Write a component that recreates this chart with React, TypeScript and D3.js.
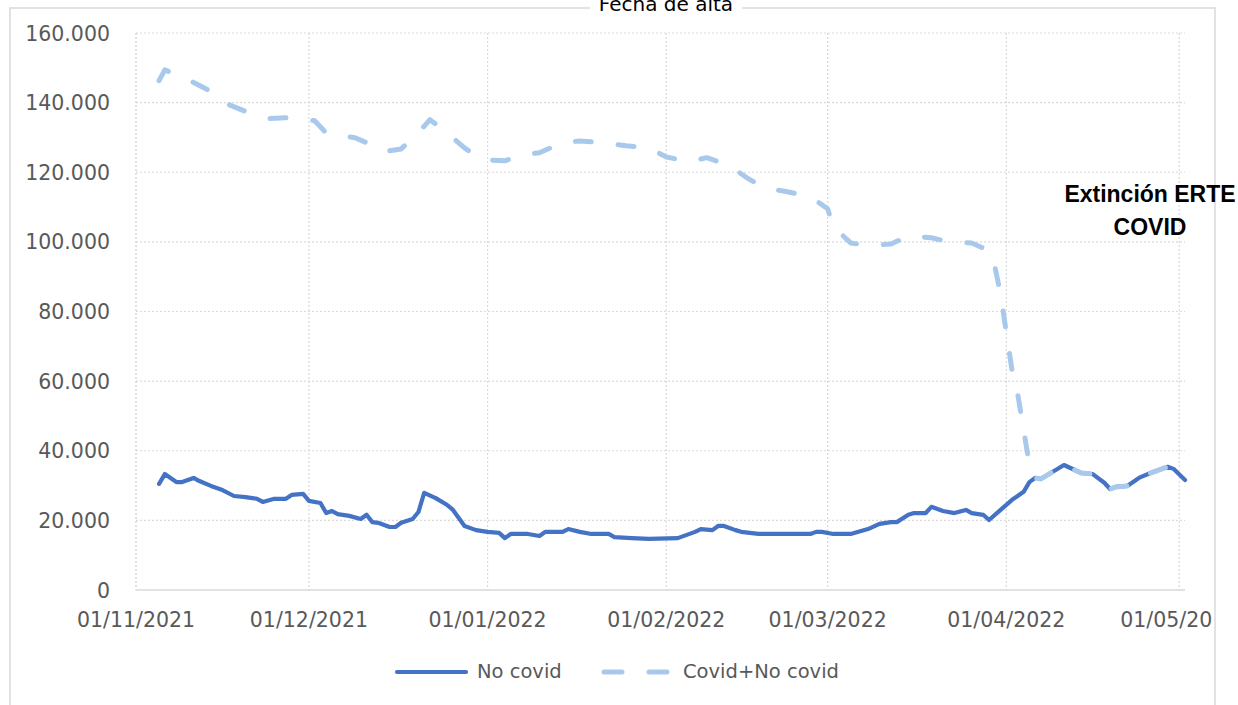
import React from "react";
import * as d3 from "d3";

const W = 1238;
const H = 705;

const noCovidDates = [
  "2021-11-05","2021-11-06","2021-11-08","2021-11-09","2021-11-11","2021-11-12","2021-11-14","2021-11-16",
  "2021-11-18","2021-11-20","2021-11-22","2021-11-23","2021-11-25","2021-11-27","2021-11-28","2021-11-30",
  "2021-12-01","2021-12-03","2021-12-04","2021-12-05","2021-12-06","2021-12-08","2021-12-10","2021-12-11",
  "2021-12-12","2021-12-13","2021-12-15","2021-12-16","2021-12-17","2021-12-19","2021-12-20","2021-12-21",
  "2021-12-23","2021-12-25","2021-12-26","2021-12-27","2021-12-28","2021-12-30","2022-01-01","2022-01-03",
  "2022-01-04","2022-01-05","2022-01-08","2022-01-10","2022-01-11","2022-01-14","2022-01-15","2022-01-17",
  "2022-01-19","2022-01-22","2022-01-23","2022-01-26","2022-01-29","2022-02-03","2022-02-06","2022-02-07",
  "2022-02-09","2022-02-10","2022-02-11","2022-02-13","2022-02-14","2022-02-17","2022-02-26","2022-02-27",
  "2022-02-28","2022-03-02","2022-03-05","2022-03-08","2022-03-10","2022-03-12","2022-03-13","2022-03-15",
  "2022-03-16","2022-03-18","2022-03-19","2022-03-21","2022-03-23","2022-03-25","2022-03-26","2022-03-28",
  "2022-03-29","2022-03-31","2022-04-02","2022-04-04","2022-04-05","2022-04-06","2022-04-07","2022-04-09",
  "2022-04-11","2022-04-14","2022-04-16","2022-04-18","2022-04-19","2022-04-20","2022-04-22","2022-04-24",
  "2022-04-26","2022-04-29","2022-04-30","2022-05-02",
];
const noCovidValues = [
  30500,33300,31000,31000,32200,31300,29900,28700,
  27000,26700,26200,25300,26200,26200,27300,27600,
  25600,25000,22100,22700,21800,21300,20400,21600,
  19500,19300,18100,18100,19300,20400,22400,27900,
  26400,24400,23000,20700,18400,17200,16700,16400,
  14900,16100,16100,15500,16700,16700,17500,16700,
  16100,16100,15200,14900,14700,14900,16700,17500,
  17200,18400,18400,17200,16700,16100,16100,16700,
  16700,16100,16100,17500,19000,19500,19500,21600,
  22100,22100,23900,22700,22100,23000,22100,21600,
  20100,23000,25900,28200,31000,32200,31900,33900,
  35900,33600,33300,30800,29000,29600,29900,32200,
  33600,35400,34800,31600,
];

const totalDates = [
  "2021-11-05","2021-11-06","2021-11-11","2021-11-14","2021-11-17","2021-11-21","2021-11-24","2021-11-28",
  "2021-12-02","2021-12-04","2021-12-09","2021-12-11","2021-12-14","2021-12-17","2021-12-20","2021-12-22",
  "2021-12-25","2021-12-28","2021-12-31","2022-01-04","2022-01-07","2022-01-10","2022-01-14","2022-01-17",
  "2022-01-21","2022-01-25","2022-01-29","2022-02-01","2022-02-05","2022-02-08","2022-02-12","2022-02-15",
  "2022-02-18","2022-02-22","2022-02-26","2022-03-01","2022-03-02","2022-03-05","2022-03-08","2022-03-12",
  "2022-03-15","2022-03-19","2022-03-22","2022-03-26","2022-03-29","2022-03-30","2022-03-31","2022-04-01",
  "2022-04-02","2022-04-03","2022-04-04","2022-04-05","2022-04-06","2022-04-07","2022-04-09","2022-04-11",
  "2022-04-14","2022-04-16","2022-04-18","2022-04-19","2022-04-20","2022-04-22","2022-04-24","2022-04-26",
  "2022-04-29","2022-04-30","2022-05-02",
];
const totalValues = [
  146300,149400,145800,143200,139500,136800,135400,135700,
  134800,131300,129900,128500,125900,126700,131300,135100,
  131300,127000,123600,123300,125000,125600,128500,129000,
  128500,127600,127000,124400,123000,124200,121900,118400,
  115500,114400,113000,109500,104300,99700,98900,99400,
  101700,101200,100000,99700,97500,93000,85000,74000,
  63000,56000,46000,36000,32200,31900,33900,35900,
  33600,33300,30800,29000,29600,29900,32200,33600,
  35400,34800,31600,
];

const yTicks = [0, 20000, 40000, 60000, 80000, 100000, 120000, 140000, 160000];
const xTickDates = ["2021-11-01","2021-12-01","2022-01-01","2022-02-01","2022-03-01","2022-04-01","2022-05-01"];
const xDomain = ["2021-11-01", "2022-05-02"];

const seriesNames = ["No covid", "Covid+No covid"];
const titleText = "Fecha de alta";
const annotationLines = ["Extinción ERTE", "COVID"];

const parse = d3.timeParse("%Y-%m-%d");
const esLocale = d3.formatLocale({ decimal: ",", thousands: ".", grouping: [3], currency: ["", "€"] });
const fmtY = esLocale.format(",.0f");
const fmtX = d3.timeFormat("%d/%m/%Y");

const SOLID = "#4472C4";
const LIGHT = "#A9C9EC";
const GRID = "#D9D9D9";
const TXT = "#595959";
const FONT = "'DejaVu Sans', sans-serif";

export default function App() {
  const x = d3.scaleTime().domain(xDomain.map((s) => parse(s) as Date)).range([136, 1185]);
  const y = d3.scaleLinear().domain([0, 160000]).range([590, 33]);

  const noCovid = noCovidDates.map((d, i) => ({ date: parse(d) as Date, value: noCovidValues[i] }));
  const total = totalDates.map((d, i) => ({ date: parse(d) as Date, value: totalValues[i] }));

  const line = d3
    .line<{ date: Date; value: number }>()
    .x((d) => x(d.date))
    .y((d) => y(d.value));

  const xTicks = xTickDates.map((s) => parse(s) as Date);
  const [x0, x1] = x.range();

  return (
    <svg width={W} height={H} style={{ position: "absolute", left: 0, top: 0, background: "#fff" }}>
      <defs>
        <clipPath id="frameClip">
          <rect x={0} y={0} width={1212} height={H} />
        </clipPath>
      </defs>
      {/* chart frame */}
      <rect x={10} y={8} width={1205} height={720} fill="none" stroke={GRID} strokeWidth={1.5} />

      {/* title with white background */}
      <rect x={590} y={0} width={152} height={14} fill="#fff" />
      <text x={666} y={11} textAnchor="middle" fontFamily={FONT} fontSize={20} fill="#000">
        {titleText}
      </text>

      {/* horizontal grid */}
      {yTicks.map((t) =>
        t === 0 ? null : (
          <line key={"h" + t} x1={x0} x2={x1} y1={y(t)} y2={y(t)} stroke={GRID} strokeWidth={1.2} strokeDasharray="2 2" />
        )
      )}
      {/* vertical grid */}
      <line x1={x0} x2={x0} y1={y(160000)} y2={y(0)} stroke={GRID} strokeWidth={1.2} strokeDasharray="2 2" />
      {xTicks.map((t, i) => (
        <line key={"v" + i} x1={x(t)} x2={x(t)} y1={y(160000)} y2={y(0)} stroke={GRID} strokeWidth={1.2} strokeDasharray="2 2" />
      ))}
      {/* baseline */}
      <line x1={x0} x2={x1} y1={y(0)} y2={y(0)} stroke={GRID} strokeWidth={1.5} />

      {/* y tick labels */}
      {yTicks.map((t) => (
        <text key={"yl" + t} x={110} y={y(t) + 7.5} textAnchor="end" fontFamily={FONT} fontSize={20.5} fill={TXT}>
          {fmtY(t)}
        </text>
      ))}

      {/* x tick labels */}
      <g clipPath="url(#frameClip)">
        {xTicks.map((t, i) => (
          <text key={"xl" + i} x={x(t)} y={627} textAnchor="middle" fontFamily={FONT} fontSize={20.5} fill={TXT}>
            {fmtX(t)}
          </text>
        ))}
      </g>

      {/* series */}
      <path d={line(noCovid) || ""} fill="none" stroke={SOLID} strokeWidth={4.2} strokeLinejoin="round" strokeLinecap="round" />
      <path
        d={line(total) || ""}
        fill="none"
        stroke={LIGHT}
        strokeWidth={5}
        strokeLinejoin="round"
        strokeLinecap="round"
        strokeDasharray="16 27"
      />

      {/* annotation */}
      {annotationLines.map((s, i) => (
        <text
          key={"an" + i}
          x={1150}
          y={202 + i * 33}
          textAnchor="middle"
          fontFamily="'Liberation Sans', Arial, sans-serif"
          fontWeight="bold"
          fontSize={23}
          fill="#000"
        >
          {s}
        </text>
      ))}

      {/* legend */}
      <line x1={397} x2={466} y1={672} y2={672} stroke={SOLID} strokeWidth={4.2} strokeLinecap="round" />
      <text x={477} y={678} fontFamily={FONT} fontSize={19.5} fill={TXT}>
        {seriesNames[0]}
      </text>
      <line x1={604} x2={670} y1={672} y2={672} stroke={LIGHT} strokeWidth={5} strokeLinecap="round" strokeDasharray="18 27" />
      <text x={683} y={678} fontFamily={FONT} fontSize={19.5} fill={TXT}>
        {seriesNames[1]}
      </text>
    </svg>
  );
}
